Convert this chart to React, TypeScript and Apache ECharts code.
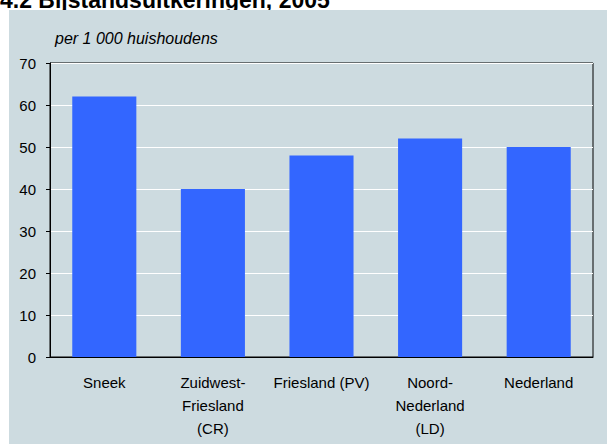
import React, { useEffect, useRef } from "react";
import * as echarts from "echarts";

const categories = ["Sneek", "Zuidwest-\nFriesland\n(CR)", "Friesland (PV)", "Noord-\nNederland\n(LD)", "Nederland"];
const values = [62, 40, 48, 52, 50];
const title = "4.2 Bijstandsuitkeringen, 2005";
const subtitle = "per 1 000 huishoudens";

export default function App() {
  const ref = useRef<HTMLDivElement>(null);
  useEffect(() => {
    const chart = echarts.init(ref.current!, null, { renderer: "svg" });
    const font = "Liberation Sans";
    chart.setOption({
      animation: false,
      backgroundColor: "#ffffff",
      textStyle: { fontFamily: font },
      graphic: [
        { type: "rect", shape: { x: 9, y: 10, width: 598, height: 434 }, style: { fill: "#cddbe0" }, z: -10 },
        { type: "text", x: 0, y: 11, z: -20, style: { text: title, fontFamily: font, fontWeight: "bold", fontSize: 23, fill: "#000", verticalAlign: "bottom" } },
        { type: "text", x: 55, y: 38, style: { text: subtitle, fontFamily: font, fontStyle: "italic", fontSize: 16, fill: "#000", verticalAlign: "middle" } },
      ],
      grid: { left: 50, right: 14, top: 63, bottom: 87, show: true, borderColor: "#000", borderWidth: 1, backgroundColor: "transparent" },
      xAxis: {
        type: "category",
        data: categories,
        axisLine: { show: true, lineStyle: { color: "#000" } },
        axisTick: { show: false },
        axisLabel: { color: "#000", fontSize: 15, lineHeight: 23, margin: 14, interval: 0, fontFamily: font },
      },
      yAxis: {
        type: "value",
        min: 0,
        max: 70,
        interval: 10,
        axisLine: { show: true, lineStyle: { color: "#000" } },
        axisTick: { show: true, length: 4, lineStyle: { color: "#000" } },
        axisLabel: { color: "#000", fontSize: 15, margin: 14, fontFamily: font },
        splitLine: { show: true, lineStyle: { color: "#ffffff", width: 1 } },
      },
      series: [
        {
          type: "bar",
          data: values,
          barWidth: "59%",
          itemStyle: { color: "#3366ff" },
        },
      ],
    });
    return () => chart.dispose();
  }, []);
  return <div ref={ref} style={{ position: "fixed", left: 0, top: 0, width: 607, height: 444 }} />;
}
